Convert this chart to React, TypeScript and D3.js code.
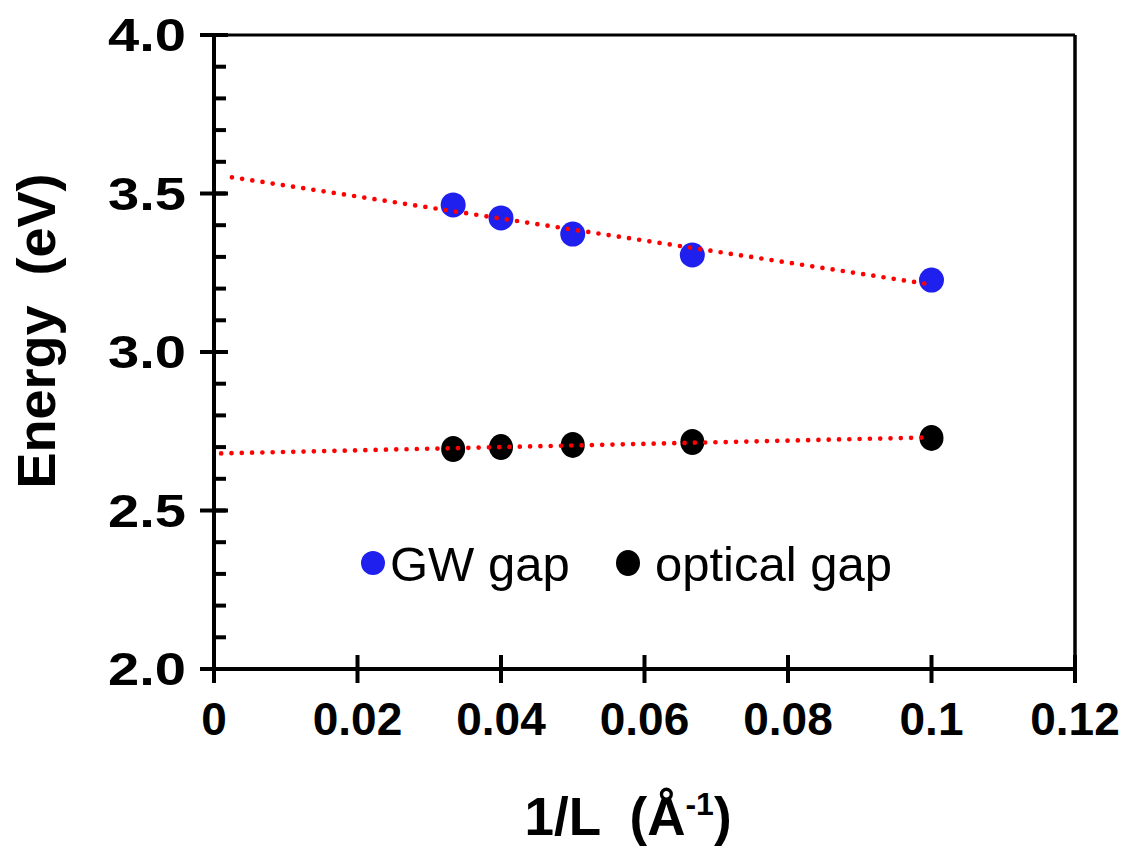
import React from "react";
import * as d3 from "d3";

const invL = [1 / 30, 1 / 25, 1 / 20, 1 / 15, 1 / 10];
const gwGap = [3.464, 3.423, 3.372, 3.306, 3.227];
const opticalGap = [2.694, 2.7, 2.707, 2.716, 2.729];
const xTicks = [0, 0.02, 0.04, 0.06, 0.08, 0.1, 0.12];
const xTickLabels = ["0", "0.02", "0.04", "0.06", "0.08", "0.1", "0.12"];
const yTicks = [2.0, 2.5, 3.0, 3.5, 4.0];
const yMinorTicks = d3.range(2.0, 4.0001, 0.1);

function fit(xs: number[], ys: number[]) {
  const mx = d3.mean(xs)!;
  const my = d3.mean(ys)!;
  let sxy = 0, sxx = 0;
  xs.forEach((x, i) => {
    sxy += (x - mx) * (ys[i] - my);
    sxx += (x - mx) * (x - mx);
  });
  const slope = sxy / sxx;
  return { slope, intercept: my - slope * mx };
}

export default function App() {
  const W = 1121, H = 849;
  const x = d3.scaleLinear().domain([0, 0.12]).range([214, 1075]);
  const y = d3.scaleLinear().domain([2.0, 4.0]).range([669, 35]);
  const font = "'Liberation Sans', Arial, sans-serif";

  const gwFit = fit(invL, gwGap);
  const opFit = fit(invL, opticalGap);
  const line = d3.line<[number, number]>().x(d => x(d[0])).y(d => y(d[1]));
  const fitPts = (f: { slope: number; intercept: number }, x0: number) =>
    [x0, 0.1].map(v => [v, f.intercept + f.slope * v] as [number, number]);

  return (
    <svg width={W} height={H} style={{ position: "absolute", left: 0, top: 0, background: "#fff" }}>
      <rect x={0} y={0} width={W} height={H} fill="#fff" />
      {/* border */}
      <line x1={x(0)} x2={x(0.12)} y1={y(4)} y2={y(4)} stroke="#000" strokeWidth={3} />
      <line x1={x(0.12)} x2={x(0.12)} y1={y(4)} y2={y(2)} stroke="#000" strokeWidth={3.5} />
      {/* axes */}
      <line x1={x(0)} x2={x(0)} y1={y(4)} y2={y(2) + 14} stroke="#000" strokeWidth={4} />
      <line x1={x(0) - 14} x2={x(0.12)} y1={y(2)} y2={y(2)} stroke="#000" strokeWidth={4} />
      {yMinorTicks.map((v, i) => (
        <line key={"ym" + i} x1={x(0)} x2={x(0) + 12} y1={y(v)} y2={y(v)} stroke="#000" strokeWidth={4} />
      ))}
      {yTicks.map(v => (
        <line key={"yt" + v} x1={x(0) - 14} x2={x(0) + 14} y1={y(v)} y2={y(v)} stroke="#000" strokeWidth={4} />
      ))}
      {xTicks.map(v => (
        <line key={"xt" + v} x1={x(v)} x2={x(v)} y1={y(2) - 14} y2={y(2) + 14} stroke="#000" strokeWidth={4} />
      ))}
      {yTicks.map(v => (
        <text key={"yl" + v} x={186} y={y(v) + 16} textAnchor="end" fontFamily={font} fontWeight="bold" fontSize={46} fill="#000"
          textLength={78} lengthAdjust="spacingAndGlyphs">
          {v.toFixed(1)}
        </text>
      ))}
      {xTicks.map((v, i) => (
        <text key={"xl" + v} x={x(v)} y={735} textAnchor="middle" fontFamily={font} fontWeight="bold" fontSize={46} fill="#000">
          {xTickLabels[i]}
        </text>
      ))}
      {/* titles */}
      <text x={628} y={835} textAnchor="middle" fontFamily={font} fontWeight="bold" fontSize={53} fill="#000" style={{ whiteSpace: "pre" }}>
        {"1/L  (Å"}
        <tspan fontSize={32} dy={-20}>{"-1"}</tspan>
        <tspan dy={20}>{")"}</tspan>
      </text>
      <text transform="translate(55,331) rotate(-90)" textAnchor="middle" fontFamily={font} fontWeight="bold" fontSize={54} fill="#000" style={{ whiteSpace: "pre" }}>
        {"Energy  (eV)"}
      </text>
      {/* data */}
      {invL.map((v, i) => (
        <circle key={"gw" + i} cx={x(v)} cy={y(gwGap[i])} r={12.5} fill="#1f1fee" />
      ))}
      {invL.map((v, i) => (
        <ellipse key={"op" + i} cx={x(v)} cy={y(opticalGap[i])} rx={12} ry={13} fill="#000" />
      ))}
      <path d={line(fitPts(gwFit, 0.0025))!} fill="none" stroke="#ff0000" strokeWidth={4.7} strokeLinecap="round" strokeDasharray="0 10.3" />
      <path d={line(fitPts(opFit, 0.001))!} fill="none" stroke="#ff0000" strokeWidth={4.7} strokeLinecap="round" strokeDasharray="0 10.3" />
      {/* legend */}
      <circle cx={373} cy={563} r={12} fill="#1f1fee" />
      <text x={390} y={581} fontFamily={font} fontSize={49} fill="#000">GW gap</text>
      <ellipse cx={628} cy={563} rx={12} ry={13} fill="#000" />
      <text x={655} y={581} fontFamily={font} fontSize={49} fill="#000">optical gap</text>
    </svg>
  );
}
